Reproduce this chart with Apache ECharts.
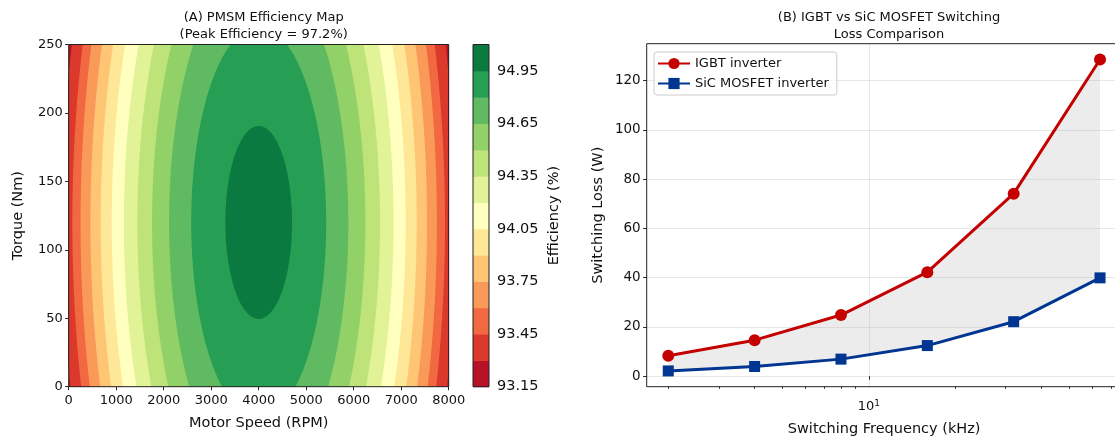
<!DOCTYPE html>
<html>
<head>
<meta charset="utf-8">
<script src="https://cdn.jsdelivr.net/npm/echarts@6/dist/echarts.min.js"></script>
<style>
  html, body { margin: 0; padding: 0; background: #fff; }
  #chart { width: 1115px; height: 441px; }
</style>
</head>
<body>
<div id="chart"></div>
<script>
// ---- (A) efficiency map, contour boundaries ----
const effBandEdges = [93.15, 93.3, 93.45, 93.6, 93.75, 93.9, 94.05, 94.2, 94.35, 94.5, 94.65, 94.8, 94.95, 95.1];
const effTicks = [93.15, 93.45, 93.75, 94.05, 94.35, 94.65, 94.95];
const peakSpeed = 4000;   // rpm
const peakTorque = 120;   // Nm
// each contour level is an ellipse round the peak: half width in rpm, half height in Nm
const contourLevels = [93.3, 93.45, 93.6, 93.75, 93.9, 94.05, 94.2, 94.35, 94.5, 94.65, 94.8, 94.95];
const contourHalfSpeed = [4140, 3923, 3751, 3543, 3326, 3095, 2838, 2554, 2245, 1887, 1421, 701];
const contourHalfTorque = [416, 395, 377, 356, 335, 311, 285, 257, 226, 190, 143, 70.5];

// ---- (B) switching loss ----
const freqKHz = [2, 4, 8, 16, 32, 64];
const igbtLoss = [8.3, 14.6, 24.8, 42.2, 74.1, 128.6];
const sicLoss = [2.1, 3.9, 6.9, 12.4, 22.1, 39.9];
const lossTicks = [0, 20, 40, 60, 80, 100, 120];
const freqMajorTicks = [10];
const freqMinorTicks = [2, 3, 4, 5, 6, 7, 8, 9, 20, 30, 40, 50, 60, 70];

// RdYlGn sampled at the 13 band centres
const bandColors = ['#b81226', '#db392b', '#f26841', '#fa9a58', '#fec574', '#fee797', '#ffffbf',
                    '#e2f397', '#bee379', '#92d068', '#60ba62', '#269e53', '#0a7a41'];

const FONT = 'DejaVu Sans';
const INK = '#111';
const SPINE = '#222';

const chart = echarts.init(document.getElementById('chart'));

// box round a grid, like matplotlib spines
function renderFrame(params) {
    const c = params.coordSys;
    return {
        type: 'rect',
        shape: { x: c.x, y: c.y, width: c.width, height: c.height },
        style: { fill: 'none', stroke: SPINE, lineWidth: 1 }
    };
}

function renderEllipse(params, api) {
    const i = params.dataIndex;
    const cx = api.value(0), cy = api.value(1);
    const a = contourHalfSpeed[i], b = contourHalfTorque[i];
    const pts = [];
    for (let k = 0; k < 240; k++) {
        const t = k / 240 * Math.PI * 2;
        pts.push(api.coord([cx + a * Math.cos(t), cy + b * Math.sin(t)]));
    }
    return { type: 'polygon', shape: { points: pts }, style: { fill: bandColors[i + 1] } };
}

function renderBand(params, api) {
    const i = params.dataIndex;
    const p0 = api.coord([0, effBandEdges[i + 1]]);
    const p1 = api.coord([1, effBandEdges[i]]);
    return {
        type: 'rect',
        shape: { x: p0[0], y: p0[1], width: p1[0] - p0[0], height: p1[1] - p0[1] + 0.5 },
        style: { fill: bandColors[i] }
    };
}

function renderGap(params, api) {
    const pts = [];
    for (let i = 0; i < freqKHz.length; i++) pts.push(api.coord([freqKHz[i], igbtLoss[i]]));
    for (let i = freqKHz.length - 1; i >= 0; i--) pts.push(api.coord([freqKHz[i], sicLoss[i]]));
    return { type: 'polygon', shape: { points: pts }, style: { fill: 'rgba(128,128,128,0.15)' } };
}

const tickLabel = { color: INK, fontFamily: FONT, fontSize: 13 };
const axisName = { color: INK, fontFamily: FONT, fontSize: 14.5 };
const titleText = { fontFamily: FONT, fontSize: 13, fontWeight: 'normal', color: INK, lineHeight: 17 };

const option = {
    animation: false,
    title: [
        { text: '(A) PMSM Efficiency Map\n(Peak Efficiency = 97.2%)', left: 258.7, top: 4, textAlign: 'center', textStyle: titleText },
        { text: '(B) IGBT vs SiC MOSFET Switching\nLoss Comparison', left: 884, top: 4, textAlign: 'center', textStyle: titleText }
    ],
    legend: {
        data: ['IGBT inverter', 'SiC MOSFET inverter'],
        orient: 'vertical',
        left: 654, top: 52,
        itemWidth: 32, itemHeight: 14, itemGap: 7,
        padding: [5, 8, 5, 3],
        borderColor: '#cccccc', borderWidth: 1, borderRadius: 3,
        backgroundColor: 'rgba(255,255,255,0.8)',
        textStyle: { fontFamily: FONT, fontSize: 13, color: INK }
    },
    grid: [
        { left: 68.7, top: 44.5, width: 380, height: 342.2, outerBoundsMode: 'none',
          show: true, backgroundColor: bandColors[0], borderWidth: 0 },
        { left: 473, top: 44.5, width: 16, height: 342.2, outerBoundsMode: 'none' },
        { left: 646.7, top: 43.7, width: 474.9, height: 343, outerBoundsMode: 'none' }
    ],
    xAxis: [
        {
            gridIndex: 0, type: 'value', min: 0, max: 8000, interval: 1000,
            axisLine: { show: false },
            axisTick: { length: 3.5, lineStyle: { color: SPINE } },
            axisLabel: Object.assign({ margin: 7, formatter: v => String(v) }, tickLabel),
            splitLine: { show: false },
            name: 'Motor Speed (RPM)', nameLocation: 'middle', nameGap: 29, nameTextStyle: axisName
        },
        { gridIndex: 1, type: 'value', min: 0, max: 1, show: false },
        {
            gridIndex: 2, type: 'log', logBase: 10, min: 1.682, max: 76.1, position: 'bottom',
            axisLine: { show: false },
            axisTick: { length: 3.5, lineStyle: { color: SPINE }, customValues: freqMajorTicks },
            axisLabel: Object.assign({
                margin: 12, customValues: freqMajorTicks,
                formatter: () => '10{sup|1}',
                rich: { sup: { fontFamily: FONT, fontSize: 9, color: INK, padding: [0, 0, 7, 0] } }
            }, tickLabel),
            splitLine: { show: true, lineStyle: { color: 'rgba(176,176,176,0.3)', width: 1 } },
            name: 'Switching Frequency (kHz)', nameLocation: 'middle', nameGap: 35, nameTextStyle: axisName
        },
        {
            gridIndex: 2, type: 'log', logBase: 10, min: 1.682, max: 76.1, position: 'bottom',
            axisLine: { show: false },
            axisTick: { length: 2, lineStyle: { color: SPINE }, customValues: freqMinorTicks },
            axisLabel: { show: false },
            splitLine: { show: false }
        }
    ],
    yAxis: [
        {
            gridIndex: 0, type: 'value', min: 0, max: 250, interval: 50,
            axisLine: { show: false },
            axisTick: { show: true, length: 3.5, lineStyle: { color: SPINE } },
            axisLabel: Object.assign({ margin: 6 }, tickLabel),
            splitLine: { show: false },
            name: 'Torque (Nm)', nameLocation: 'middle', nameGap: 43, nameTextStyle: axisName
        },
        {
            gridIndex: 1, type: 'value', min: 93.15, max: 95.1, position: 'right',
            axisLine: { show: false },
            axisTick: { show: true, length: 3.5, lineStyle: { color: SPINE }, customValues: effTicks },
            axisLabel: Object.assign({ margin: 8, customValues: effTicks, formatter: v => v.toFixed(2) },
                                     tickLabel, { fontSize: 14.5 }),
            splitLine: { show: false },
            name: 'Efficiency (%)', nameLocation: 'middle', nameRotate: 90, nameGap: 58, nameTextStyle: axisName
        },
        {
            gridIndex: 2, type: 'value', min: -4.3, max: 135,
            axisLine: { show: false },
            axisTick: { show: true, length: 3.5, lineStyle: { color: SPINE }, customValues: lossTicks },
            axisLabel: Object.assign({ margin: 6, customValues: lossTicks }, tickLabel, { fontSize: 13.5 }),
            splitLine: { show: true, lineStyle: { color: 'rgba(176,176,176,0.3)', width: 1 } },
            name: 'Switching Loss (W)', nameLocation: 'middle', nameGap: 41, nameTextStyle: axisName
        }
    ],
    series: [
        {
            type: 'custom', xAxisIndex: 0, yAxisIndex: 0, clip: true,
            renderItem: renderEllipse,
            data: contourLevels.map(() => [peakSpeed, peakTorque])
        },
        {
            type: 'custom', xAxisIndex: 0, yAxisIndex: 0, clip: false, z: 5,
            renderItem: renderFrame, data: [[0, 0]]
        },
        {
            type: 'custom', xAxisIndex: 1, yAxisIndex: 1, clip: false,
            renderItem: renderBand,
            data: effBandEdges.slice(0, -1).map(v => [0, v])
        },
        {
            type: 'custom', xAxisIndex: 1, yAxisIndex: 1, clip: false, z: 5,
            renderItem: renderFrame, data: [[0, 93.15]]
        },
        {
            type: 'custom', xAxisIndex: 2, yAxisIndex: 2, clip: true, z: -1,
            renderItem: renderGap, data: [[freqKHz[0], igbtLoss[0]]]
        },
        {
            type: 'custom', xAxisIndex: 2, yAxisIndex: 2, clip: false, z: 5,
            renderItem: renderFrame, data: [[freqKHz[0], 0]]
        },
        {
            name: 'IGBT inverter', type: 'line', xAxisIndex: 2, yAxisIndex: 2,
            data: freqKHz.map((f, i) => [f, igbtLoss[i]]),
            color: '#c40000',
            lineStyle: { width: 3 },
            symbol: 'circle', symbolSize: 12, showAllSymbol: true
        },
        {
            name: 'SiC MOSFET inverter', type: 'line', xAxisIndex: 2, yAxisIndex: 2,
            data: freqKHz.map((f, i) => [f, sicLoss[i]]),
            color: '#003591',
            lineStyle: { width: 3 },
            symbol: 'rect', symbolSize: 11, showAllSymbol: true
        }
    ]
};

chart.setOption(option);
</script>
</body>
</html>
